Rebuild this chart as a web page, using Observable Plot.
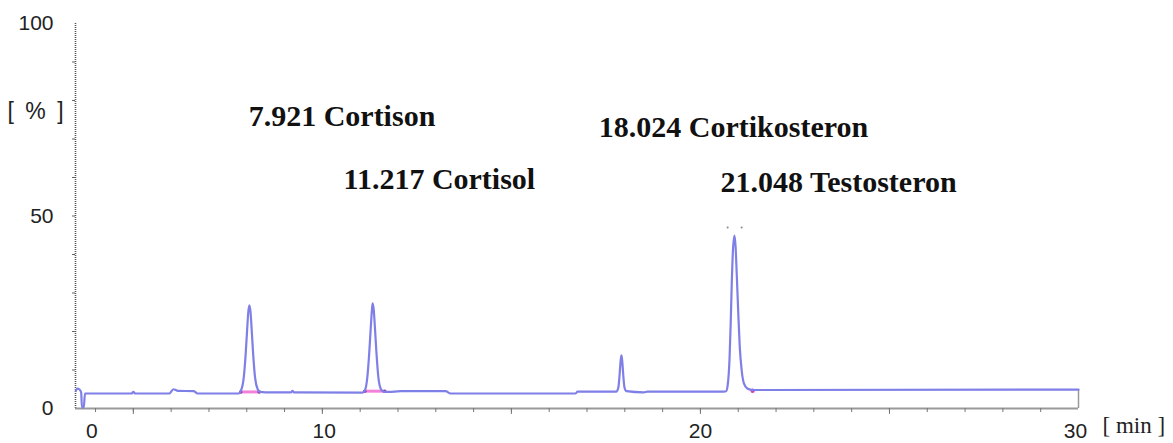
<!DOCTYPE html>
<html>
<head>
<meta charset="utf-8">
<script src="https://cdn.jsdelivr.net/npm/d3@7"></script>
<script src="https://cdn.jsdelivr.net/npm/@observablehq/plot@0.6"></script>
<style>
  html, body { margin: 0; padding: 0; background: #fff; }
</style>
</head>
<body>
<div id="chart"></div>
<script>
// Chromatogram trace (time in min, relative intensity in %)
const times = [
  3.48, 3.52, 3.57, 3.62, 3.64, 3.69, 3.72,
  4.95, 5.00, 5.05, 5.95, 6.06, 6.18, 6.60, 6.70,
  7.70, 7.78, 7.84, 7.92, 7.97, 8.01, 8.04, 8.07, 8.10, 8.13, 8.17, 8.22, 8.29, 8.35, 8.50,
  9.17, 9.21, 9.25,
  11.05, 11.12, 11.19, 11.24, 11.28, 11.31, 11.33, 11.36, 11.39, 11.43, 11.48, 11.55, 11.62, 11.75,
  12.07, 13.26, 13.39, 16.70, 16.75,
  17.78, 17.83, 17.86, 17.89, 17.91, 17.93, 17.96, 17.99, 18.04, 18.50, 18.60,
  20.62, 20.68, 20.72, 20.77, 20.80, 20.83, 20.86, 20.90, 20.93, 20.96, 21.00, 21.04, 21.09, 21.15, 21.24, 21.38,
  30.00
];
const values = [
  4.6, 5.2, 5.0, 4.2, 0.3, 0.3, 3.9,
  3.9, 4.3, 3.9, 3.9, 5.0, 4.6, 4.5, 3.9,
  3.9, 3.9, 4.5, 8.0, 14.0, 20.5, 25.0, 26.8, 25.0, 20.5, 14.0, 8.0, 5.0, 4.3, 4.2,
  4.2, 4.6, 4.2,
  4.1, 4.6, 8.2, 14.5, 21.0, 25.5, 27.3, 25.5, 21.0, 14.5, 8.2, 5.0, 4.4, 4.3,
  4.5, 4.5, 3.9, 3.9, 4.4,
  4.4, 5.5, 8.5, 12.5, 13.8, 12.5, 8.5, 5.5, 4.5, 4.2, 4.4,
  4.4, 4.5, 6.0, 13, 22, 33, 41, 44.9, 42, 35, 25, 16, 10, 6.5, 5.2, 4.8,
  4.9
];

// Peak annotations
const peakLabels = ["7.921 Cortison", "11.217 Cortisol", "18.024 Cortikosteron", "21.048 Testosteron"];
const peakLabelTime = [8.05, 10.56, 17.31, 20.53];
const peakLabelLevel = [76.0, 59.6, 73.0, 58.6];

// Integration marks (pink baselines)
const integStart = [7.84, 11.12];
const integEnd = [8.33, 11.65];
const integLevel = [4.3, 4.5];
const integEndMark = [{t: 21.38, v: 4.6}];
const apexMarks = [{t: 20.72, v: 47}, {t: 21.09, v: 47}];

// Axes
const xMinorTicks = d3.range(4, 30, 1);
const xMajorTicks = [5, 10, 15, 20, 25];
const xLabelPos = [3.9, 10.05, 20, 29.92];
const xLabelText = ["0", "10", "20", "30"];
const yLabelTicks = [0, 50, 100];
const yMinorTicks = d3.range(10, 100, 10);

const chrom = times.map((t, i) => ({t, v: values[i]}));
const labels = peakLabels.map((s, i) => ({s, t: peakLabelTime[i], v: peakLabelLevel[i]}));
const integ = integStart.map((s, i) => ({s, e: integEnd[i], v: integLevel[i]}));
const integEnds = integ.flatMap(d => [{t: d.s, v: d.v}, {t: d.e, v: d.v}]);
const xLabelMap = new Map(xLabelPos.map((p, i) => [p, xLabelText[i]]));

const X0 = 3.47, X1 = 30;

const chart = Plot.plot({
  width: 1173,
  height: 443,
  marginLeft: 75,
  marginRight: 95,
  marginTop: 23,
  marginBottom: 35,
  x: {domain: [X0, X1], label: null},
  y: {domain: [0, 100], label: null},
  style: {fontFamily: "'Liberation Sans', Arial, sans-serif", color: "#222", background: "#fff", overflow: "visible"},
  marks: [
    // dotted y axis line
    Plot.ruleX([X0], {y1: 0, y2: 100, stroke: "#555", strokeWidth: 1.6, strokeDasharray: "1 1"}),
    Plot.axisY({ticks: yMinorTicks, tickSize: 3, tickFormat: () => "", stroke: "#666"}),
    Plot.axisY({ticks: yLabelTicks, tickSize: 0, tickPadding: 22, fontSize: 21, tickFormat: d => String(d)}),
    // x axis
    Plot.ruleY([0], {stroke: "#999", strokeWidth: 2.2}),
    Plot.axisX({ticks: xMinorTicks, tickSize: 4, tickFormat: () => "", stroke: "#777"}),
    Plot.axisX({ticks: xMajorTicks, tickSize: 6, tickFormat: () => "", stroke: "#777"}),
    Plot.axisX({ticks: xLabelPos, tickSize: 0, tickPadding: 15, fontSize: 21, tickFormat: d => xLabelMap.get(d)}),
    Plot.ruleX([X1], {y1: 0, y2: 4.9, stroke: "#999", strokeWidth: 1.5}),
    // integration baselines
    Plot.link(integ, {x1: "s", x2: "e", y1: "v", y2: "v", stroke: "#f060d0", strokeWidth: 3, strokeOpacity: 0.8}),
    Plot.dot(integEnds, {x: "t", y: "v", r: 1.8, fill: "#8a3a9a", stroke: null}),
    Plot.dot(integEndMark, {x: "t", y: "v", r: 2.2, fill: "#d040c0", stroke: null}),
    // trace
    Plot.line(chrom, {x: "t", y: "v", stroke: "#7f7fe8", strokeWidth: 2.2, curve: "monotone-x"}),
    Plot.dot(apexMarks, {x: "t", y: "v", r: 1, fill: "#888", stroke: null}),
    // peak labels
    Plot.text(labels, {x: "t", y: "v", text: "s", textAnchor: "start", fontSize: 30, fontWeight: "bold",
      fontFamily: "'Liberation Serif', 'Times New Roman', serif", fill: "#111"}),
    // unit labels
    Plot.text(["[\u2002%\u2002]"], {frameAnchor: "left", y: () => 77, dx: -40, textAnchor: "middle", fontSize: 23, fill: "#222"}),
    Plot.text(["[ min ]"], {frameAnchor: "bottom-right", dx: 24, dy: 24, textAnchor: "start", fontSize: 23,
      fontFamily: "'Liberation Serif', 'Times New Roman', serif", fill: "#222"})
  ]
});

document.getElementById("chart").appendChild(chart);
</script>
</body>
</html>
